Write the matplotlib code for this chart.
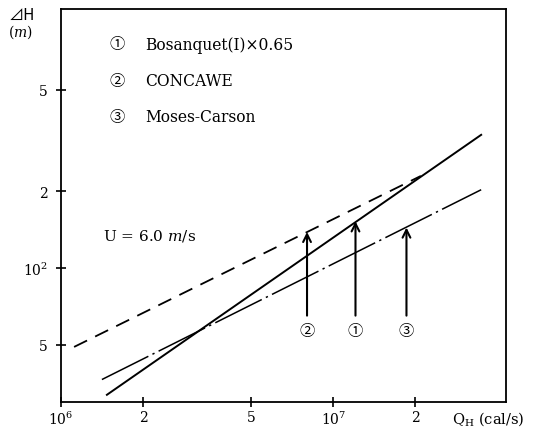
import numpy as np
import matplotlib
matplotlib.use("Agg")
import matplotlib.pyplot as plt

plt.rcParams['font.family'] = ['DejaVu Serif', 'Noto Sans CJK JP']
plt.rcParams['mathtext.fontset'] = 'dejavuserif'

# lines (Q_H in cal/s, dH in m)
q_bosanquet = [1.474e6, 3.486e7]
h_bosanquet = [31.8, 332.6]
q_concawe = [1.117e6, 2.094e7]
h_concawe = [49.0, 229.5]
q_moses = [1.413e6, 3.486e7]
h_moses = [36.5, 202.6]

arrow_q = [8.0e6, 1.205e7, 1.854e7]
arrow_top = [138.4, 152.3, 144.0]
arrow_bottom = 65.0
arrow_labels = ['②', '①', '③']

xticks = [1e6, 2e6, 5e6, 1e7, 2e7]
xticklabels = ['$10^6$', '2', '5', '$10^7$', '2']
yticks = [50, 100, 200, 500]
yticklabels = ['5', '$10^2$', '2', '5']

legend_marks = ['①', '②', '③']
legend_names = ['Bosanquet(I)×0.65', 'CONCAWE', 'Moses-Carson']

fig = plt.figure(figsize=(5.34, 4.31), dpi=100)
ax = fig.add_axes([61/534, 1-403/431, 445/534, 393/431])
ax.set_xscale('log')
ax.set_yscale('log')
ax.set_xlim(1e6, 4.3e7)
ax.set_ylim(29.8, 1036)

ax.plot(q_bosanquet, h_bosanquet, color='k', lw=1.4)
ax.plot(q_concawe, h_concawe, color='k', lw=1.3, linestyle=(0, (8, 5)))
ax.plot(q_moses, h_moses, color='k', lw=1.1, linestyle=(0, (34, 3, 1.5, 3)))

for q, top, lab in zip(arrow_q, arrow_top, arrow_labels):
    ax.annotate('', xy=(q, top), xytext=(q, arrow_bottom),
                arrowprops=dict(arrowstyle='->', lw=1.5, color='k',
                                mutation_scale=14, shrinkA=0, shrinkB=0))
    ax.text(q, arrow_bottom*0.875, lab, ha='center', va='center', fontsize=11,
            family=['Noto Sans CJK JP'])

ax.minorticks_off()
ax.set_xticks(xticks)
ax.set_xticklabels(xticklabels, fontsize=10)
ax.set_yticks(yticks)
ax.set_yticklabels(yticklabels, fontsize=10)
ax.tick_params(direction='inout', length=7, width=1.2, pad=6)
ax.tick_params(axis='x', pad=2)
for s in ax.spines.values():
    s.set_linewidth(1.3)

for i, (m, n) in enumerate(zip(legend_marks, legend_names)):
    y = 1 - (45 + i*36.5)/431
    fig.text(117/534, y, m, ha='center', va='center', fontsize=11,
             family=['Noto Sans CJK JP'])
    fig.text(145/534, y, n, ha='left', va='center', fontsize=11.2)

fig.text(103/534, 1-236/431, 'U = 6.0 $m$/s', ha='left', va='center', fontsize=11)
fig.text(22/534, 1-15/431, '⊿H', ha='center', va='center', fontsize=11,
         family=['Noto Sans CJK JP', 'DejaVu Serif'])
fig.text(20/534, 1-32/431, '($m$)', ha='center', va='center', fontsize=10)
fig.text(452/534, 1-419/431, 'Q$_\\mathrm{H}$ (cal/s)', ha='left', va='center', fontsize=10.5)

fig.savefig('out.png', dpi=100)
